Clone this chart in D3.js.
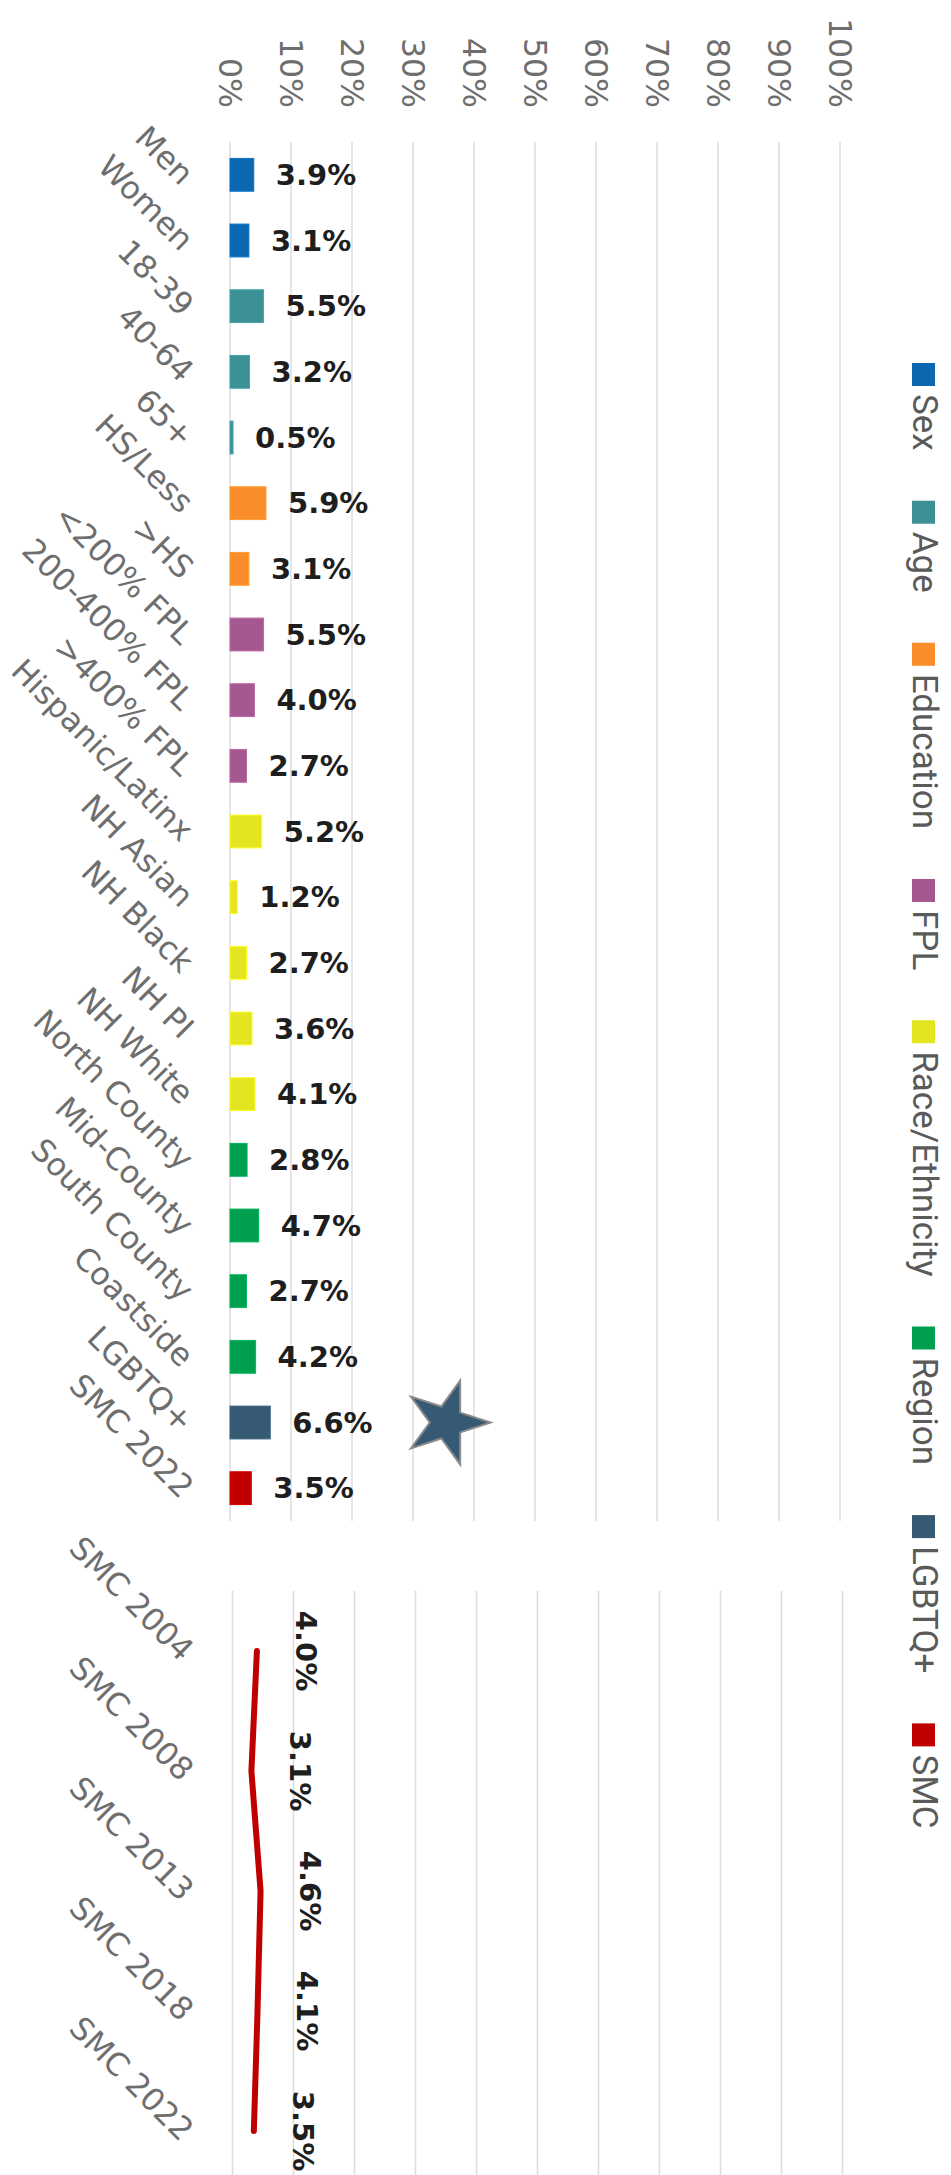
<!DOCTYPE html>
<html><head><meta charset="utf-8">
<script src="https://cdn.jsdelivr.net/npm/d3@7"></script>
<style>body{margin:0;background:#fff}svg{display:block}</style>
</head><body><svg id="c" width="951" height="2175"></svg>
<script>
const categories = ["Men","Women","18-39","40-64","65+","HS/Less",">HS","<200% FPL","200-400% FPL",">400% FPL","Hispanic/Latinx","NH Asian","NH Black","NH PI","NH White","North County","Mid-County","South County","Coastside","LGBTQ+","SMC 2022"];
const values = [3.9,3.1,5.5,3.2,0.5,5.9,3.1,5.5,4.0,2.7,5.2,1.2,2.7,3.6,4.1,2.8,4.7,2.7,4.2,6.6,3.5];
const groups = ["Sex","Sex","Age","Age","Age","Education","Education","FPL","FPL","FPL","Race/Ethnicity","Race/Ethnicity","Race/Ethnicity","Race/Ethnicity","Race/Ethnicity","Region","Region","Region","Region","LGBTQ+","SMC"];
const legendNames = ["Sex","Age","Education","FPL","Race/Ethnicity","Region","LGBTQ+","SMC"];
const legendColors = ["#0a67b0","#3b9196","#f98c2b","#a4588f","#e2e51f","#009e4f","#365a74","#c00000"];
const tickValues = [0,10,20,30,40,50,60,70,80,90,100];
const trendYears = ["SMC 2004","SMC 2008","SMC 2013","SMC 2018","SMC 2022"];
const trendValues = [4.0,3.1,4.6,4.1,3.5];
const starCategory = "LGBTQ+";
const starValue = 35.5;

const svg = d3.select("#c");
const color = d3.scaleOrdinal(legendNames, legendColors);
const x = d3.scaleLinear([0,100],[230,840]);
const xT = d3.scaleLinear([0,100],[232.5,842.5]);
const y = d3.scaleBand(categories,[142,1521]).paddingInner(0.5).paddingOuter(0.25);
const yT = d3.scalePoint(trendYears,[1591,2191]).padding(0.5);
const fmt = v => d3.format(".1f")(v) + "%";
const FONT = "'DejaVu Sans', sans-serif";

// gridlines top
svg.append("g").selectAll("line").data(tickValues).join("line")
  .attr("x1", d => x(d)).attr("x2", d => x(d))
  .attr("y1", 142).attr("y2", 1521)
  .attr("stroke", "#dcdcdc").attr("stroke-width", 1.5);
// gridlines bottom
svg.append("g").selectAll("line").data(tickValues).join("line")
  .attr("x1", d => xT(d)).attr("x2", d => xT(d))
  .attr("y1", 1591).attr("y2", 2191)
  .attr("stroke", "#dcdcdc").attr("stroke-width", 1.5);

// tick labels
svg.append("g").selectAll("text").data(tickValues).join("text")
  .attr("transform", d => `translate(${x(d)},108) rotate(90)`)
  .attr("text-anchor", "end").attr("dominant-baseline", "central")
  .style("font-family", FONT).style("font-size", "31.5px").attr("fill", "#6e6e6e")
  .text(d => d + "%");

// bars
const data = categories.map((c,i) => ({c, v: values[i], g: groups[i]}));
svg.append("g").selectAll("rect").data(data).join("rect")
  .attr("x", x(0)).attr("y", d => y(d.c))
  .attr("width", d => x(d.v) - x(0)).attr("height", y.bandwidth())
  .attr("fill", d => color(d.g))
  .attr("stroke", d => d3.color(color(d.g)).brighter(0.4)).attr("stroke-width", 1);

// value labels
svg.append("g").selectAll("text").data(data).join("text")
  .attr("x", d => x(d.v) + 22).attr("y", d => y(d.c) + y.bandwidth()/2)
  .attr("dominant-baseline", "central")
  .style("font-family", FONT).style("font-size", "29px").style("font-weight", "bold")
  .attr("fill", "#1e1e1e")
  .text(d => fmt(d.v));

// category labels
svg.append("g").selectAll("text").data(categories).join("text")
  .attr("transform", d => `translate(188,${y(d) + y.bandwidth()/2 + 4}) rotate(45)`)
  .attr("text-anchor", "end").attr("dominant-baseline", "central")
  .style("font-family", FONT).style("font-size", "31.5px").attr("fill", "#6e6e6e")
  .text(d => d);

// star marker
svg.append("path")
  .attr("d", d3.symbol(d3.symbolStar, 2173)())
  .attr("transform", `translate(${x(starValue)},${y(starCategory) + y.bandwidth()/2}) rotate(90)`)
  .attr("fill", "#365a74").attr("stroke", "#8a8a8a").attr("stroke-width", 2);

// trend line
const line = d3.line().x(d => xT(d.v)).y(d => yT(d.c));
const tdata = trendYears.map((c,i) => ({c, v: trendValues[i]}));
svg.append("path").datum(tdata).attr("d", line)
  .attr("fill", "none").attr("stroke", "#c00000").attr("stroke-width", 6)
  .attr("stroke-linecap", "round").attr("stroke-linejoin", "round");
svg.append("g").selectAll("text").data(tdata).join("text")
  .attr("transform", d => `translate(${xT(d.v) + 49},${yT(d.c)}) rotate(90)`)
  .attr("text-anchor", "middle").attr("dominant-baseline", "central")
  .style("font-family", FONT).style("font-size", "29px").style("font-weight", "bold")
  .attr("fill", "#1e1e1e")
  .text(d => fmt(d.v));
svg.append("g").selectAll("text").data(trendYears).join("text")
  .attr("transform", d => `translate(188,${yT(d) + 4}) rotate(45)`)
  .attr("text-anchor", "end").attr("dominant-baseline", "central")
  .style("font-family", FONT).style("font-size", "31.5px").attr("fill", "#6e6e6e")
  .text(d => d);

// legend
const lg = svg.append("g");
let ly = 363;
legendNames.forEach((n,i) => {
  lg.append("rect").attr("x", 912).attr("y", ly).attr("width", 23).attr("height", 23)
    .attr("fill", legendColors[i]);
  const t = lg.append("text")
    .attr("transform", `translate(924,${ly + 31}) rotate(90)`)
    .attr("dominant-baseline", "central")
    .style("font-family", "Roboto, sans-serif").style("font-size", "35px").attr("fill", "#5a5a5a")
    .text(n);
  ly += 31 + t.node().getComputedTextLength() + 50;
});
</script></body></html>
